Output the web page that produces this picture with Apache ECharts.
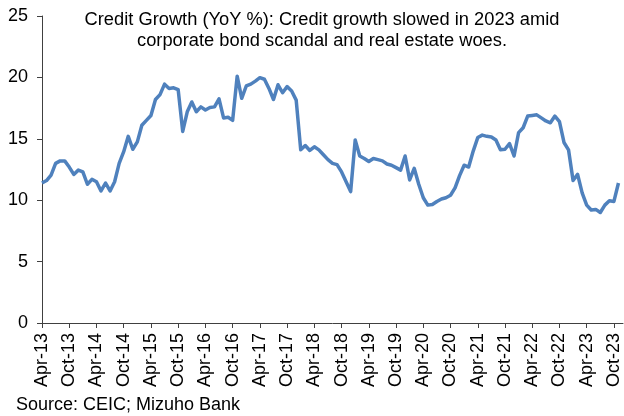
<!DOCTYPE html>
<html>
<head>
<meta charset="utf-8">
<script src="https://cdn.jsdelivr.net/npm/echarts@6/dist/echarts.min.js"></script>
<style>
  html, body { margin: 0; padding: 0; background: #ffffff; }
  #chart { width: 624px; height: 416px; }
</style>
</head>
<body>
<div id="chart"></div>
<script>
// Monthly credit growth, YoY %, Apr-2013 through Nov-2023
var startYear = 2013, startMonth = 3;   // April (0-based)
var monthCount = 129;                   // axis runs Apr-13 .. Dec-23
var monthNames = ['Jan','Feb','Mar','Apr','May','Jun','Jul','Aug','Sep','Oct','Nov','Dec'];

var creditGrowth = [
  11.4, 11.6, 12.05, 13.0, 13.2, 13.2, 12.7, 12.1, 12.45, 12.3, 11.3, 11.7,
  11.5, 10.75, 11.4, 10.75, 11.5, 13.0, 13.95, 15.2, 14.15, 14.75, 16.1, 16.5,
  16.9, 18.2, 18.6, 19.45, 19.1, 19.15, 19.0, 15.6, 17.2, 18.0, 17.2, 17.6,
  17.35, 17.55, 17.6, 18.25, 16.7, 16.75, 16.5, 20.1, 18.3, 19.3, 19.45, 19.7,
  19.98, 19.85, 19.1, 18.2, 19.4, 18.75, 19.25, 18.9, 18.15, 14.1, 14.45, 14.05,
  14.35, 14.1, 13.7, 13.3, 13.0, 12.9, 12.3, 11.5, 10.7, 14.9, 13.6, 13.4,
  13.15, 13.4, 13.3, 13.2, 12.95, 12.85, 12.65, 12.45, 13.6, 11.65, 12.6, 11.3,
  10.2, 9.6, 9.65, 9.9, 10.1, 10.2, 10.4, 11.0, 12.0, 12.85, 12.7, 14.0,
  15.1, 15.3, 15.2, 15.15, 14.9, 14.1, 14.15, 14.6, 13.6, 15.5, 15.9, 16.85,
  16.9, 16.95, 16.7, 16.45, 16.3, 16.85, 16.4, 14.7, 14.1, 11.6, 12.1, 10.6,
  9.6, 9.2, 9.25, 9.0, 9.6, 9.95, 9.9, 11.4
];

var yTicks = [0, 5, 10, 15, 20, 25];

var titleLines = [
  'Credit Growth (YoY %): Credit growth slowed in 2023 amid',
  'corporate bond scandal and real estate woes.'
];
var sourceNote = 'Source: CEIC; Mizuho Bank';

// Month labels like "Apr-13"
var months = [];
for (var i = 0; i < monthCount; i++) {
  var mi = startMonth + i;
  var y = startYear + Math.floor(mi / 12);
  months.push(monthNames[mi % 12] + '-' + String(y % 100).padStart(2, '0'));
}

var FONT = 'Liberation Sans, Arial, sans-serif';
var axisColor = '#404040';

// Centered title lines
var titleGraphics = titleLines.map(function (line, k) {
  return {
    type: 'text',
    x: 322, y: 20 + k * 21,
    style: {
      text: line,
      font: '18.3px ' + FONT,
      fill: '#000000',
      textAlign: 'center',
      textVerticalAlign: 'middle'
    }
  };
});

var chart = echarts.init(document.getElementById('chart'), null, { renderer: 'canvas' });
chart.setOption({
  animation: false,
  backgroundColor: '#ffffff',
  grid: { left: 42, right: 1, top: 16, bottom: 93, containLabel: false },
  graphic: titleGraphics.concat([
    {
      type: 'text', x: 16, y: 405,
      style: {
        text: sourceNote,
        font: '18px ' + FONT,
        fill: '#000000',
        textVerticalAlign: 'middle'
      }
    }
  ]),
  xAxis: {
    type: 'category',
    data: months,
    boundaryGap: false,
    axisLine: { lineStyle: { color: axisColor, width: 1 } },
    axisTick: { show: true, interval: 5, length: 5, lineStyle: { color: axisColor } },
    axisLabel: {
      interval: 5, rotate: 90, margin: 10,
      fontFamily: FONT, fontSize: 18, color: '#000000'
    },
    splitLine: { show: false }
  },
  yAxis: {
    type: 'value',
    min: yTicks[0], max: yTicks[yTicks.length - 1], interval: 5,
    axisLine: { show: true, lineStyle: { color: axisColor, width: 1 } },
    axisTick: { show: true, length: 5, lineStyle: { color: axisColor } },
    axisLabel: { margin: 14, fontFamily: FONT, fontSize: 18, color: '#000000' },
    splitLine: { show: false }
  },
  series: [{
    type: 'line',
    data: creditGrowth,
    showSymbol: false,
    symbol: 'none',
    lineStyle: { color: '#4f81bd', width: 3.5, join: 'round' },
    z: 3
  }]
});
</script>
</body>
</html>
